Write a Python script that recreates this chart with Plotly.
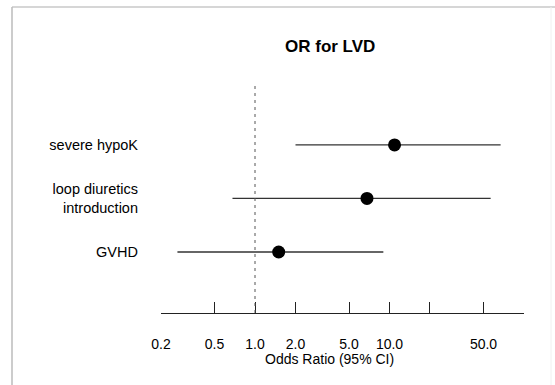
import plotly.graph_objects as go

# ---- data ----
labels = ["severe hypoK", "loop diuretics<br>introduction", "GVHD"]
odds_ratio = [10.9, 6.8, 1.5]
ci_low = [2.0, 0.68, 0.265]
ci_high = [67.0, 56.5, 9.0]
row_pos = [3, 2, 1]

tick_vals = [0.2, 0.5, 1, 2, 5, 10, 20, 50, 100]
tick_text = ["0.2", "0.5", "1.0", "2.0", "5.0", "10.0", "", "50.0", ""]

W, H = 555, 385
L, R, T, B = 161, 524, 85, 313

def px_x(px):
    return (px - L) / (R - L)

def px_y(py):
    return (B - py) / (B - T)

fig = go.Figure()
fig.add_trace(go.Scatter(
    x=odds_ratio, y=row_pos, mode="markers",
    marker=dict(size=13, color="black"),
    error_x=dict(type="data", symmetric=False,
                 array=[h - o for h, o in zip(ci_high, odds_ratio)],
                 arrayminus=[o - l for o, l in zip(odds_ratio, ci_low)],
                 width=0, thickness=1.3, color="#333333"),
    showlegend=False, hoverinfo="skip",
))

font = "Liberation Sans, Arial, Helvetica, sans-serif"

fig.update_layout(
    width=W, height=H,
    margin=dict(l=L, r=W - R, t=T, b=H - B, autoexpand=False),
    paper_bgcolor="white", plot_bgcolor="white",
    font=dict(family=font, size=14, color="black"),
    xaxis=dict(type="log", range=[-0.69897, 2.0], tickvals=tick_vals, ticktext=tick_text,
               ticks="inside", ticklen=11, tickwidth=1, tickcolor="#222",
               showline=True, linecolor="#222", linewidth=1, mirror=False,
               showgrid=False, zeroline=False, ticklabelstandoff=18,
               tickfont=dict(size=14)),
    yaxis=dict(range=[-0.14, 4.12], tickvals=row_pos, ticktext=labels,
               showgrid=False, zeroline=False, showline=False, ticks="",
               ticklabelstandoff=22, tickfont=dict(size=14.5)),
    shapes=[
        dict(type="line", xref="x", yref="paper", x0=1, x1=1, y0=0, y1=1,
             line=dict(color="#555", width=1, dash="3px,4px")),
        dict(type="line", xref="paper", yref="paper", x0=px_x(12), x1=px_x(556),
             y0=px_y(7), y1=px_y(7), line=dict(color="#c8c8c8", width=1.5)),
        dict(type="line", xref="paper", yref="paper", x0=px_x(12), x1=px_x(12),
             y0=px_y(7), y1=px_y(386), line=dict(color="#bbbbbb", width=1.5)),
        dict(type="line", xref="paper", yref="paper", x0=px_x(551), x1=px_x(551),
             y0=px_y(7), y1=px_y(386), line=dict(color="#f0f0f0", width=1)),
    ],
    annotations=[
        dict(text="<b>OR for LVD</b>", xref="paper", yref="paper",
             x=px_x(330), y=px_y(46), xanchor="center", yanchor="middle",
             showarrow=False, font=dict(size=17, family=font, color="black")),
        dict(text="Odds Ratio (95% CI)", xref="paper", yref="paper",
             x=px_x(329), y=px_y(359), xanchor="center", yanchor="middle",
             showarrow=False, font=dict(size=14, family=font, color="black")),
    ],
)

fig.write_html("out.html", config={"displayModeBar": False},
               post_script="document.body.style.margin='0';document.body.style.overflow='hidden';")
